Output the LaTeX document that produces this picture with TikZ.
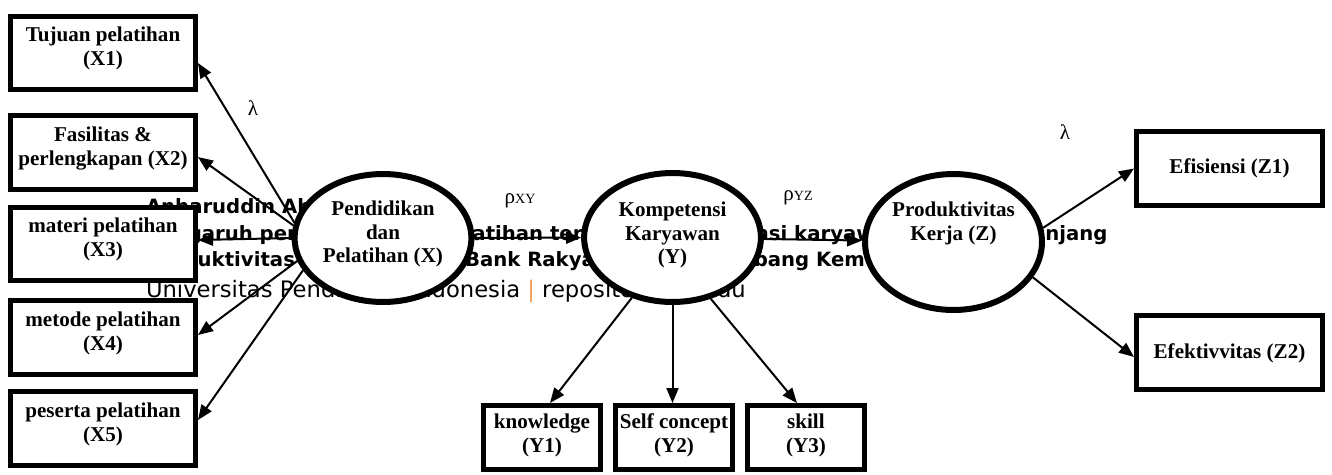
\documentclass[tikz,border=0pt]{standalone}
\usepackage{fontspec}
\setmainfont{Liberation Serif}
\newfontfamily\wmfont{DejaVu Sans}
\usetikzlibrary{arrows.meta}
\usetikzlibrary{shapes.geometric}
\usetikzlibrary{positioning}

\definecolor{barorange}{RGB}{240,160,80}
\newcommand{\toptext}[3]{\parbox[c][#1][t]{#2}{\centering #3}}

\begin{document}
\begin{tikzpicture}[x=0.02cm,y=-0.02cm,->,>={Triangle[length=0.3cm,width=0.24cm]},
                    line width=0.04cm,node distance=2.64cm,
                    latent/.style={ellipse,draw,line width=0.12cm,fill=white,inner sep=0pt,
                                   font=\fontsize{12}{13.6}\selectfont\bfseries},
                    indicator/.style={rectangle,draw,line width=0.1cm,fill=white,inner sep=0pt,
                                      font=\fontsize{12}{13.6}\selectfont\bfseries},
                    stamp/.style={anchor=base west,inner sep=0pt,
                                  font=\wmfont\fontsize{11.2}{13}\selectfont},
                    coef/.style={font=\fontsize{12}{14}\selectfont}]
  \useasboundingbox (0,0) rectangle (1332,474);

  % watermark lines, behind everything
  \node[stamp] (wm1) at (145,213) {\bfseries Anharuddin Ah};
  \node[stamp] (wm2) at (145,240) {\bfseries Pengaruh pendidikan dan pelatihan terhadap kompetensi karyawan dalam menunjang};
  \node[stamp] (wm3) at (145,266) {\bfseries Produktivitas kerja pada PT. Bank Rakyat Indonesia Cabang Kem};
  \node[stamp,font=\wmfont\fontsize{12.9}{14}\selectfont] (wm4) at (145,297)
    {Universitas Pendidikan Indonesia {\color{barorange}|} repository.upi.edu};

  \node[latent,minimum width=3.48cm,minimum height=2.56cm] (X) at (383,238)
    {\toptext{1.5cm}{2.5cm}{Pendidikan\\dan\\Pelatihan (X)}};
  \node[latent,minimum width=3.18cm,minimum height=2.58cm] (Y) at (672.5,237.5)
    {\toptext{1.44cm}{2.5cm}{Kompetensi\\Karyawan\\(Y)}};
  \node[latent,minimum width=3.54cm,minimum height=2.72cm] (Z) at (953.5,242)
    {\toptext{1.62cm}{2.5cm}{Produktivitas\\Kerja (Z)}};

  \node[indicator,minimum width=3.7cm,minimum height=1.48cm] (X1) at (103,53)
    {\toptext{1.04cm}{3.6cm}{Tujuan pelatihan\\(X1)}};
  \node[indicator,minimum width=3.7cm,minimum height=1.48cm] (X2) at (103,152.5)
    {\toptext{1.04cm}{3.6cm}{Fasilitas \&\\perlengkapan (X2)}};
  \node[indicator,minimum width=3.7cm,minimum height=1.48cm] (X3) at (103,244)
    {\toptext{1.04cm}{3.6cm}{materi pelatihan\\(X3)}};
  \node[indicator,minimum width=3.7cm,minimum height=1.48cm] (X4) at (103,337.5)
    {\toptext{1.04cm}{3.6cm}{metode pelatihan\\(X4)}};
  \node[indicator,minimum width=3.7cm,minimum height=1.48cm] (X5) at (103,428.5)
    {\toptext{1.04cm}{3.6cm}{peserta pelatihan\\(X5)}};

  \node[indicator,minimum width=2.34cm,minimum height=1.28cm] (Y1) at (542,437.5)
    {\toptext{0.96cm}{2.3cm}{knowledge\\(Y1)}};
  \node[indicator,minimum width=2.34cm,minimum height=1.28cm] (Y2) [right of=Y1]
    {\toptext{0.96cm}{2.3cm}{Self concept\\(Y2)}};
  \node[indicator,minimum width=2.34cm,minimum height=1.28cm] (Y3) [right of=Y2]
    {\toptext{0.96cm}{2.3cm}{skill\\(Y3)}};

  \node[indicator,minimum width=3.72cm,minimum height=1.48cm] (Z1) at (1229.5,168.5) {Efisiensi (Z1)};
  \node[indicator,minimum width=3.72cm,minimum height=1.48cm,node distance=3.69cm] (Z2) [below of=Z1] {Efektivvitas (Z2)};

  \node[coef] (lx) at (253,108) {λ};
  \node[coef] (lz) at (1065,132) {λ};
  \node[coef] (rxy) at (520,201) {ρ{\fontsize{8}{9}\selectfont XY}};
  \node[coef] (ryz) at (798,198) {ρ{\fontsize{8}{9}\selectfont YZ}};

  \path (X.170) edge ([yshift=-0.2cm]X1.east)
        (X.172) edge ([yshift=-0.09cm]X2.east)
        (X.180) edge ([yshift=0.08cm]X3.east)
        (X.195) edge ([yshift=0.05cm]X4.east)
        (X.202) edge ([yshift=0.17cm]X5.east)
        (X) edge (Y)
        (Y) edge (Z)
        (Y.236) edge ([xshift=0.16cm]Y1.north)
        (Y.south) edge (Y.south |- Y2.north)
        (Y.302) edge ([xshift=-0.18cm]Y3.north)
        (Z.9) edge (Z1.west)
        (Z.336) edge ([yshift=-0.08cm]Z2.west);
\end{tikzpicture}
\end{document}
